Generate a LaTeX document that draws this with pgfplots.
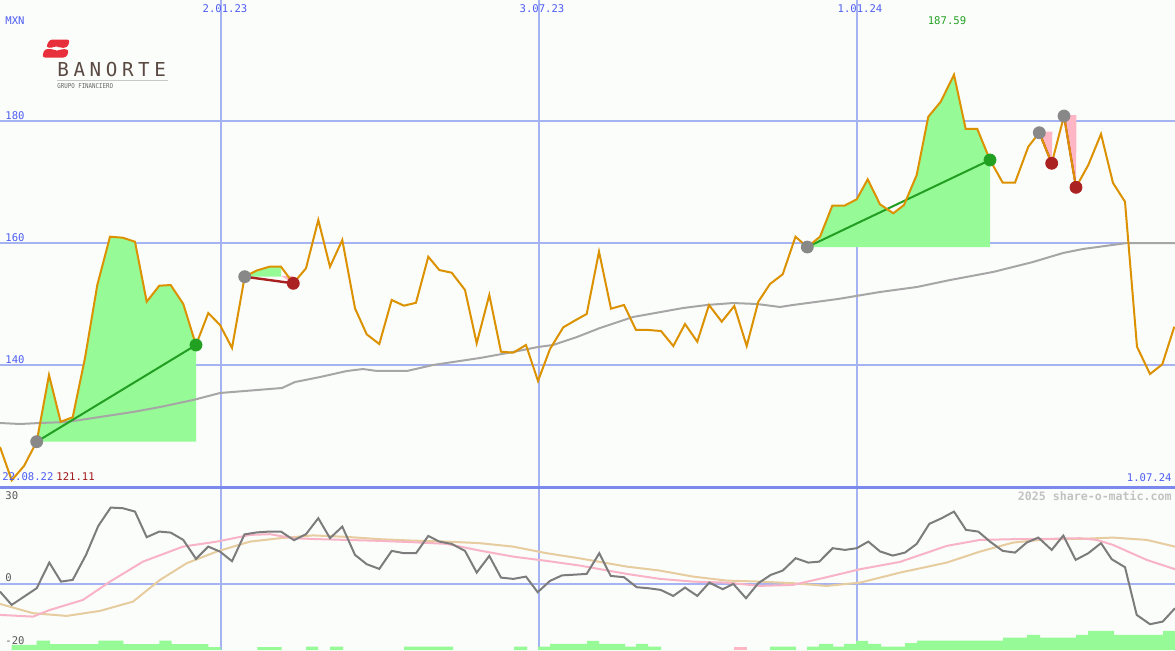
\documentclass[border=0pt]{standalone}
\usepackage{pgfplots}
\pgfplotsset{compat=1.18}
\usepackage{fontspec}
\setmainfont{Liberation Sans}
\newfontfamily\lblfont{DejaVu Sans Mono}
\definecolor{bgc}{HTML}{FBFDFB}
\definecolor{gridc}{HTML}{A6B3F2}
\definecolor{sepc}{HTML}{7A89EE}
\definecolor{lblc}{HTML}{4D5DF2}
\definecolor{pricec}{HTML}{DC9200}
\definecolor{mac}{HTML}{A6A6A6}
\definecolor{fillg}{HTML}{96FA96}
\definecolor{fillp}{HTML}{FFB6C4}
\definecolor{trendg}{HTML}{229F22}
\definecolor{trendr}{HTML}{A82020}
\definecolor{markgray}{HTML}{888888}
\definecolor{markgreen}{HTML}{22A022}
\definecolor{markred}{HTML}{AA2222}
\definecolor{oscc}{HTML}{7C7C7C}
\definecolor{pinkc}{HTML}{F8B4C6}
\definecolor{tanc}{HTML}{E6CC9E}
\definecolor{logored}{HTML}{E8303C}
\definecolor{logobrown}{HTML}{5A4842}
\definecolor{wmc}{HTML}{C2C2C2}
\definecolor{lowc}{HTML}{A01818}
\definecolor{highc}{HTML}{22A022}
\pgfplotsset{panel/.style={scale only axis, width=587.5pt, xmin=0, xmax=1175,
  axis line style={draw=none}, tick style={draw=none},
  xtick={221,539,857}, xticklabels={}, yticklabels={},
  xmajorgrids, ymajorgrids, grid style={gridc, line width=1pt}}}
\begin{document}
\begin{tikzpicture}
\fill[bgc] (0,0) rectangle (587.5pt,325pt);
% ---------------- main price panel
\begin{axis}[panel, at={(0pt,81.5pt)}, anchor=south west, height=243.5pt,
  ymin=120, ymax=199.84, ytick={140,160,180}]
% fills
\addplot[fill=fillg, draw=none] coordinates {(36.7,127.43) (49,138.36) (60.7,130.70) (72.7,131.43) (85,141.15) (97.3,153.11) (110,161.03) (122.7,160.87) (135,160.21) (146.7,150.38) (159.3,153.0) (170.7,153.11) (183.3,150.0) (196,143.28) (196,127.43)};
\addplot[fill=fillg, draw=none] coordinates {(244.7,154.48) (256.7,155.49) (269.3,156.11) (281,156.11) (281,154.48)};
\addplot[fill=fillp, draw=none] coordinates {(281,154.6) (293.3,154.6) (293.3,153.39)};
\addplot[fill=fillg, draw=none] coordinates {(807.3,159.34) (820,161.03) (832.3,166.11) (844.3,166.11) (856.7,167.16) (867.7,170.44) (880,166.34) (893.3,164.87) (904,166.23) (916.7,171.15) (928.3,180.70) (940.7,183.16) (954,187.59) (965.7,178.69) (977.3,178.69) (990,173.61) (990,159.34)};
\addplot[fill=fillp, draw=none] coordinates {(1039.3,178.25) (1052.3,178.25) (1051.7,173.07)};
\addplot[fill=fillp, draw=none] coordinates {(1064,180.98) (1076.5,180.98) (1076,169.13)};
% long moving average
\addplot[mac, line width=1pt] coordinates {(0,130.49) (20,130.33) (40,130.49) (67,130.66) (100,131.48) (133,132.30) (160,133.11) (193,134.26) (220,135.41) (257,135.90) (282,136.23) (295,137.21) (320,138.03) (347,139.02) (363,139.34) (377,139.02) (407,139.02) (433,140.0) (480,141.15) (513,142.13) (538,142.95) (553,143.28) (577,144.59) (600,146.07) (633,147.87) (683,149.34) (707,149.84) (733,150.16) (757,150.0) (780,149.51) (793,149.84) (838,150.82) (880,151.97) (917,152.79) (950,153.93) (993,155.25) (1033,156.89) (1063,158.36) (1083,159.02) (1127,160.0) (1175,160.0)};
% trend lines
\addplot[trendg, line width=1pt] coordinates {(36.7,127.43) (196,143.28)};
\addplot[trendr, line width=1.2pt] coordinates {(244.7,154.48) (293.3,153.39)};
\addplot[trendg, line width=1pt] coordinates {(807.3,159.34) (990,173.61)};
\addplot[trendr, line width=1pt] coordinates {(1039.3,178.08) (1051.7,173.07)};
\addplot[trendr, line width=1pt] coordinates {(1064,180.82) (1076,169.13)};
% price
\addplot[pricec, line width=1pt] coordinates {(0,126.56) (11.7,121.11) (24,123.44) (36.7,127.43) (49,138.36) (60.7,130.70) (72.7,131.43) (85,141.15) (97.3,153.11) (110,161.03) (122.7,160.87) (135,160.21) (146.7,150.38) (159.3,153.0) (170.7,153.11) (183.3,150.0) (196,143.28) (208.3,148.52) (220,146.56) (232,142.79) (244.7,154.48) (256.7,155.49) (269.3,156.11) (281,156.11) (293.3,153.39) (306,155.85) (318.3,163.77) (330,156.11) (342.3,160.49) (355,149.30) (366.7,145.03) (379.3,143.44) (391.7,150.66) (404,149.72) (416,150.21) (428.3,157.75) (439.3,155.57) (451.7,155.13) (465,152.30) (476.7,143.56) (489.3,151.48) (501,142.18) (513.3,142.02) (526,143.28) (538,137.38) (550,142.62) (563.3,146.18) (575,147.30) (586.7,148.36) (599,158.57) (611,149.23) (624,149.84) (636,145.74) (648.5,145.74) (661,145.57) (673.3,143.11) (685,146.72) (697.3,143.82) (709,149.84) (721.7,147.10) (734.3,149.67) (746.7,143.11) (758.3,150.38) (770,153.28) (782.7,154.87) (795.5,161.03) (807.3,159.34) (820,161.03) (832.3,166.11) (844.3,166.11) (856.7,167.16) (867.7,170.44) (880,166.34) (893.3,164.87) (904,166.23) (916.7,171.15) (928.3,180.70) (940.7,183.16) (954,187.59) (965.7,178.69) (977.3,178.69) (990,173.61) (1002.7,169.89) (1015,169.89) (1028.3,175.79) (1039.3,178.08) (1051.7,173.07) (1064,180.82) (1076,169.13) (1088.3,172.79) (1101,177.87) (1113,169.84) (1125,166.77) (1137,143.0) (1150,138.52) (1162.3,140.11) (1174.3,146.28)};
% signal markers
\addplot[only marks, mark=*, mark size=3pt, mark options={fill=markgray, draw=markgray}] coordinates {(36.7,127.43) (244.7,154.48) (807.3,159.34) (1039.3,178.08) (1064,180.82)};
\addplot[only marks, mark=*, mark size=3pt, mark options={fill=markgreen, draw=markgreen}] coordinates {(196,143.28) (990,173.61)};
\addplot[only marks, mark=*, mark size=3pt, mark options={fill=markred, draw=markred}] coordinates {(293.3,153.39) (1051.7,173.07) (1076,169.13)};
\end{axis}
% ---------------- oscillator panel
\begin{axis}[panel, at={(0pt,0pt)}, anchor=south west, height=81.5pt,
  ymin=-23.6, ymax=34.6, ytick={0}]
\addplot[fill=fillg, draw=none, const plot] coordinates {(0,-23.6) (11.7,-21.79) (36.7,-20.25) (50,-21.54) (98.3,-20.25) (123.3,-21.54) (159.3,-20.25) (171.7,-21.54) (208.3,-22.61) (220.7,-23.6) (257.3,-22.61) (281.7,-23.6) (306,-22.39) (318,-23.6) (330,-22.39) (343,-23.6) (404,-22.39) (453,-23.6) (514,-22.39) (527,-23.6) (538,-22.39) (550,-21.43) (587,-20.36) (599,-21.43) (625,-22.39) (636,-21.43) (648,-22.39) (661,-23.6) (770,-22.39) (796,-23.6) (807,-22.39) (819,-21.43) (833,-22.39) (844,-21.43) (856,-20.36) (868,-21.43) (881,-22.39) (905,-21.18) (917,-20.25) (1003,-19.18) (1027,-18.21) (1040,-19.18) (1076,-18.21) (1088,-16.79) (1114,-18.21) (1163,-16.79) (1175,-16.79) (1175,-23.6)};
\addplot[fill=fillp, draw=none] coordinates {(734,-23.6) (734,-22.39) (747,-22.39) (747,-23.6)};
\addplot[tanc, line width=1pt] coordinates {(0,-7.14) (33,-10.46) (66.7,-11.43) (100,-9.64) (133,-6.32) (160,1.43) (186.7,7.39) (216.7,11.54) (250,15.11) (280,16.32) (313,17.32) (346.7,16.79) (380,15.96) (413,15.46) (446.7,15.11) (480,14.54) (513,13.32) (546.7,10.96) (580,9.11) (626.7,6.18) (660,4.75) (693,2.61) (726.7,1.18) (760,0.82) (793,0.25) (826.7,-0.71) (860,0.46) (900,4.04) (946.7,7.61) (980,11.54) (1013,14.75) (1046.7,15.96) (1080,16.07) (1113,16.54) (1146.7,15.71) (1175,13.32)};
\addplot[pinkc, line width=1pt] coordinates {(0,-11.07) (33,-11.68) (50,-9.29) (83,-5.71) (110,0.82) (143,7.96) (183,13.32) (217,15.11) (250,17.5) (270,17.75) (293,16.32) (320,15.96) (346.7,15.71) (380,15.36) (413,14.89) (446.7,14.29) (480,11.89) (513,9.75) (546.7,8.21) (580,6.54) (626.7,3.57) (660,1.79) (693,0.82) (726.7,0.46) (760,-0.71) (793,-0.36) (826.7,2.39) (860,5.25) (900,7.86) (946.7,13.57) (980,15.71) (1013,15.96) (1046.7,16.07) (1080,16.32) (1096.7,15.71) (1113,13.93) (1146.7,8.57) (1175,5.25)};
\addplot[oscc, line width=1pt] coordinates {(0,-2.75) (11.7,-7.5) (36.7,-1.54) (49.3,7.61) (61,0.82) (72.7,1.43) (86,10.36) (98.3,20.71) (110.7,27.25) (122.7,27.04) (135,25.82) (146.7,16.68) (159.3,18.68) (170.7,18.32) (183.3,15.71) (196,8.93) (208.3,13.32) (220,11.54) (232,8.11) (244.5,17.68) (256.7,18.39) (269.3,18.68) (281,18.68) (294,15.61) (306,17.75) (318.3,23.46) (330,16.32) (342.3,20.46) (355,10.36) (366.7,7.04) (379.3,5.36) (391.7,11.79) (404,10.96) (416,10.96) (428.3,17.14) (439.3,15.11) (451.7,14.29) (465,11.79) (476.7,4.04) (489.3,10.0) (501,2.25) (513.3,1.79) (526,2.61) (537.7,-2.96) (550,1.07) (562,3.04) (574.5,3.3) (586.7,3.57) (599.3,10.96) (610.7,2.86) (624,2.39) (636.7,-1.18) (648.3,-1.54) (660.7,-2.14) (673.3,-4.29) (685,-1.32) (697.3,-4.29) (709.3,0.46) (722.7,-1.89) (733.3,0) (746,-5.11) (758.3,0.25) (770.7,3.21) (782.7,4.75) (795.7,9.18) (808.3,7.61) (819.3,7.96) (832.7,12.75) (845,12.14) (856.7,12.75) (868.3,15.11) (880,11.61) (892.7,10.11) (905,11.18) (916.7,14.29) (929.3,21.43) (941.7,23.46) (954,25.82) (966,19.29) (978.3,18.68) (990,15.11) (1002.7,11.79) (1015,11.18) (1026.7,14.75) (1038.3,16.54) (1051.7,12.14) (1063.3,17.25) (1075.7,8.57) (1088.3,10.96) (1101,14.54) (1111.7,8.82) (1125,5.96) (1136.7,-11.07) (1150,-14.39) (1162.7,-13.46) (1175,-8.68)};
\end{axis}
% separator
\draw[sepc, line width=1.5pt] (0pt,81.5pt) -- (587.5pt,81.5pt);
% ---------------- labels and logo in pixel units
\begin{scope}[x=0.5pt, y=-0.5pt, shift={(0pt,325pt)}]
\lblfont\fontsize{5.3}{6}\selectfont
\node[lblc, inner sep=0pt] at (225,9) {2.01.23};
\node[lblc, inner sep=0pt] at (542,9) {3.07.23};
\node[lblc, inner sep=0pt] at (860,9) {1.01.24};
\node[lblc, inner sep=0pt, anchor=west] at (5,21) {MXN};
\node[highc, inner sep=0pt] at (947,21) {187.59};
\node[lblc, inner sep=0pt, anchor=west] at (5,116) {180};
\node[lblc, inner sep=0pt, anchor=west] at (5,238) {160};
\node[lblc, inner sep=0pt, anchor=west] at (5,360) {140};
\node[lblc, inner sep=0pt, anchor=west] at (2,477) {22.08.22};
\node[lowc, inner sep=0pt, anchor=west] at (56,477) {121.11};
\node[lblc, inner sep=0pt, anchor=east] at (1172,478) {1.07.24};
\node[black!65, inner sep=0pt, anchor=west] at (5,496) {30};
\node[black!65, inner sep=0pt, anchor=west] at (5,578) {0};
\node[black!65, inner sep=0pt, anchor=west] at (5,641) {-20};
\node[wmc, inner sep=0pt, anchor=east, font=\lblfont\bfseries\fontsize{5.8}{6}\selectfont] at (1172,496) {2025 share-o-matic.com};
% logo
\fill[logored, rounded corners=1.5pt] (46,47.5) -- (49.5,39.5) -- (70,39.5) -- (67.5,47.5) -- (60,48) -- (57,45.5) -- (52,48) -- cycle;
\fill[logored, rounded corners=1.5pt] (42,57.5) -- (44.5,49) -- (53,49) -- (57,51.5) -- (61,49) -- (69,49.5) -- (66.5,57.5) -- cycle;
\node[logobrown, inner sep=0pt, anchor=base west, font=\fontsize{9.6}{10}\selectfont\addfontfeatures{LetterSpace=24}] at (57,76) {BANORTE};
\draw[black!22, line width=0.6pt] (57,80.5) -- (168,80.5);
\node[black!60, inner sep=0pt, anchor=base west, font=\fontsize{3.4}{4}\selectfont] at (57,88) {\scalebox{0.85}[1]{GRUPO FINANCIERO}};
\end{scope}
\pgfresetboundingbox
\useasboundingbox (0,0) rectangle (587.5pt,325pt);
\end{tikzpicture}
\end{document}
